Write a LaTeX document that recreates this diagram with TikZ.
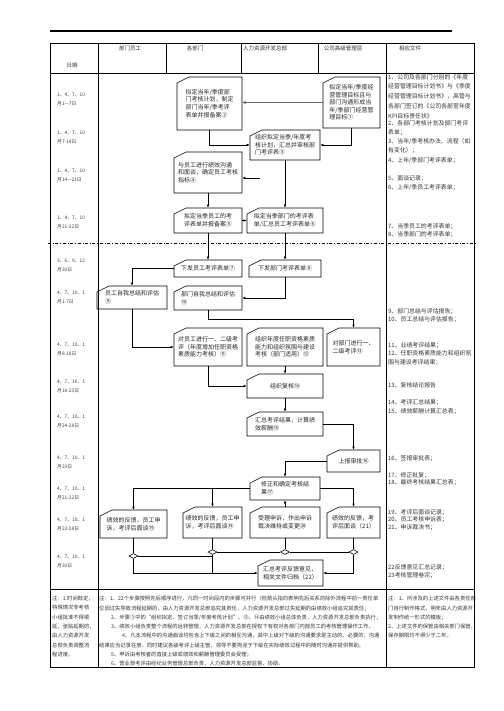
\documentclass[tikz,border=0pt]{standalone}
\usepackage{fontspec}
\setmainfont{Noto Sans CJK SC}
\usetikzlibrary{arrows.meta,shapes.geometric,positioning}

\tikzset{
  boxline/.style={draw=black, line width=0.6pt},
  cardtext/.style={inner sep=0pt, align=left, text=black!85, font=\fontsize{6}{7.6}\selectfont},
  flow/.style={line width=0.6pt, -{Latex[length=3.2pt,width=2.6pt]}},
  link/.style={line width=0.6pt},
  grid/.style={line width=0.8pt},
  datetext/.style={anchor=west, inner sep=0pt, align=left, text=black!75, font=\fontsize{4.8}{9}\selectfont},
  doctext/.style={anchor=north west, inner sep=0pt, align=left, text=black!80, font=\fontsize{5.9}{9.7}\selectfont},
  notetext/.style={anchor=north west, inner sep=0pt, align=left, text=black!80, font=\fontsize{5.3}{9.3}\selectfont},
  headtext/.style={inner sep=0pt, text=black!80, font=\fontsize{5.5}{6}\selectfont},
  merge/.style={draw, diamond, line width=0.6pt, fill=white, minimum width=9pt, minimum height=5pt, inner sep=0pt}
}

% card with cut corner: name, x1, y1, x2, y2, text
\newcommand{\cardbox}[6]{%
  \draw[boxline] (#2,#3+6) -- (#2+12,#3) -- (#4,#3) -- (#4,#5) -- (#2,#5) -- cycle;
  \node[cardtext, minimum width=#4-#2, minimum height=#5-#3] (#1) at ({(#2+#4)/2},{(#3+#5)/2}) {#6};
}

\begin{document}
\begin{tikzpicture}[x=1pt, y=-1pt]
  \useasboundingbox (0,0) rectangle (503,711);

  % Page rule and table frame
  \draw[line width=1.4pt] (50,31) -- (452,31);
  \draw[grid] (50,43) rectangle (474,667);
  \draw[grid] (50,73) -- (474,73);
  \draw[grid] (98,43) -- (98,667);
  \draw[grid] (386,43) -- (386,667);
  \draw[grid] (166,43) -- (166,73);
  \draw[grid] (241,43) -- (241,73);
  \draw[grid] (318,43) -- (318,73);
  \draw[grid] (50,589) -- (474,589);
  \draw[dash dot, line width=0.7pt] (48,243) -- (476,243);

  % Header
  \node[headtext] (hdate) at (72,65) {日期};
  \node[headtext] (hstaff) at (130,48) {部门员工};
  \node[headtext] (hdept) at (195,48) {各部门};
  \node[headtext] (hhr) at (265,48) {人力资源开发总部};
  \node[headtext] (hboss) at (343,48) {公司高级管理层};
  \node[headtext] (hdoc) at (410,48) {相应文件};

  % Dates
  \node[datetext] (day1) at (57,99.5) {1、4、7、10\\月1—7日};
  \node[datetext] (day2) at (57,137.5) {1、4、7、10\\月7-14日};
  \node[datetext] (day3) at (57,175.5) {1、4、7、10\\月14—21日};
  \node[datetext] (day4) at (57,222) {1、4、7、10\\月21-22日};
  \node[datetext] (day5) at (57,265) {3、6、9、12\\月30日};
  \node[datetext] (day6) at (57,297.5) {4、7、10、1\\月1-7日};
  \node[datetext] (day7) at (57,349) {4、7、10、1\\月8-18日};
  \node[datetext] (day8) at (57,386) {4、7、10、1\\月18-23日};
  \node[datetext] (day9) at (57,421) {4、7、10、1\\月24-28日};
  \node[datetext] (day10) at (57,462) {4、7、10、1\\月29日};
  \node[datetext] (day11) at (57,493.5) {4、7、10、1\\月21-22日};
  \node[datetext] (day12) at (57,524) {4、7、10、1\\月23-28日};
  \node[datetext] (day13) at (57,561) {4、7、10、1\\月30日};

  % Process cards
  \cardbox{A}{177}{77}{242}{130}{拟定当年/季度部\\门考核计划，制定\\部门当年/季考评\\表单并报备案②}
  \cardbox{B}{323}{77}{380}{128}{拟定当年/季度经\\营管理目标且与\\部门沟通形成当\\年/季部门经营管\\理目标①}
  \cardbox{C}{250}{130}{320}{160}{组织拟定当季/年度考\\核计划，汇总并审核部\\门考评表③}
  \cardbox{D}{174}{152}{242}{193}{与员工进行绩效沟通\\和面谈，确定员工考核\\指标④}
  \cardbox{E}{174}{208}{242}{233}{拟定当季员工的考\\评表单并报备案⑤}
  \cardbox{F}{247}{208}{323}{233}{拟定当季部门的考评表\\单/汇总员工考评表单⑥}
  \cardbox{G}{174}{260}{242}{277}{下发员工考评表单⑦}
  \cardbox{H}{249}{260}{321}{277}{下发部门考评表单⑧}
  \cardbox{I}{97}{286}{167}{309}{员工自我总结和评估\\⑨}
  \cardbox{J}{174}{286}{242}{310}{部门自我总结和评估\\⑩}
  \cardbox{K}{174}{328}{242}{366}{对员工进行一、二级考\\评（年度增加任职资格\\素质能力考核）⑪}
  \cardbox{L}{247}{328}{323}{366}{组织年度任职资格素质\\能力和组织氛围与建设\\考核（部门适用）⑫}
  \cardbox{M}{327}{328}{380}{366}{对部门进行一、\\二级考评⑬}
  \cardbox{N}{247}{374}{323}{398}{组织复核⑭}
  \cardbox{O}{247}{412}{323}{436}{汇总考评结果，计算绩\\效薪酬⑮}
  \cardbox{P}{327}{450}{380}{472}{上报审批⑯}
  \cardbox{Q}{250}{477}{320}{500}{修正和确定考核结\\果⑰}
  \cardbox{R}{100}{510}{167}{538}{绩效的反馈，员工申\\诉，考评后面谈⑲}
  \cardbox{S}{183}{507}{242}{538}{绩效的反馈，员工申\\诉，考评后面谈⑲}
  \cardbox{T}{250}{507}{320}{538}{受理申诉，作出申诉\\裁决维持或变更⑳}
  \cardbox{U}{327}{507}{380}{538}{绩效的反馈，考\\评后面谈（21）}
  \cardbox{V}{258}{560}{323}{586}{汇总考评反馈意见，\\相关文件归档（22）}

  % Connectors
  \draw[line width=1.6pt, black!60, -{Latex[length=3.5pt,width=3.2pt]}] (B.west) -- (B.west -| A.east);
  \draw[flow] (A.south) |- (C.west);
  \draw[flow] (B.south) |- (C.east);
  \coordinate (talk) at (260,178);
  \draw[flow] (talk) -- (talk -| D.east);
  \draw[flow] (D) -- (E);
  \draw[flow] (C) -- (F);
  \draw[flow] (E) -- (F);
  \draw[flow] (E) -- (G);
  \draw[flow] (F) -- (H);
  \draw[flow] (G.west) -| (I.north);
  \draw[flow] (H.south) |- (J.east);
  \draw[flow] (I.south) |- (K.west);
  \draw[flow] (J.south) -- ++(0,9) -| (M.north);
  \draw[flow] (L) -- (N);
  \draw[flow] (K.south) |- (N.west);
  \draw[flow] (N) -- (O);
  \draw[flow] (O.east) -| (P.north);
  \draw[flow] (P.west) -| (Q.north);
  \draw[flow] (Q.west) -| (R.north);
  \draw[flow] (Q.west) -| (S.north);
  \draw[flow] (Q.east) -| (U.north);
  \draw[flow] (T) -- (Q);

  % Merge points
  \node[merge] (m1) at (133.5,556) {};
  \node[merge] (m2) at (212.5,552) {};
  \node[merge] (m3) at (285,552) {};
  \node[merge] (m4) at (353.5,552) {};
  \draw[link] (R) -- (m1);
  \draw[link] (S) -- (m2);
  \draw[link] (T) -- (m3);
  \draw[link] (U) -- (m4);
  \draw[link] (m1.east) -- (m1.east -| m2.south);
  \draw[link] (m2) -- (m3);
  \draw[link] (m3) -- (m4);
  \draw[flow] (m1.south) |- (V.west);
  \draw[link] (m2.south) -- (m2.south |- V.west);
  \draw[flow] (m4.south) |- (V.east);

  % Documents
  \node[doctext] (doc1) at (388,74) {1、公司及各部门分别的《年度\\经营管理目标计划书》与《季度\\经营管理目标计划书》，高管与\\各部门签订的《公司各部室年度\\KPI目标责任状》};
  \node[doctext] (doc2) at (388,120) {2、各部门考核计划及部门考评\\表单；};
  \node[doctext] (doc3) at (388,138) {3、当年/季考核办法、流程（如\\有变化）；};
  \node[doctext] (doc4) at (388,157) {4、上年/季部门考评表单；};
  \node[doctext] (doc5) at (388,175) {5、面谈记录；};
  \node[doctext] (doc6) at (388,184) {6、上年/季员工考评表单；};
  \node[doctext] (doc7) at (388,223) {7、当季员工的考评表单；};
  \node[doctext] (doc8) at (388,231) {8、当季部门的考评表单；};
  \node[doctext] (doc9) at (388,308) {9、部门总结与评估报告；};
  \node[doctext] (doc10) at (388,316) {10、员工总结与评估报告；};
  \node[doctext] (doc11) at (388,342) {11、业绩考评结果；};
  \node[doctext] (doc12) at (388,350) {12、任职资格素质能力和组织氛\\围与建设考评结果；};
  \node[doctext] (doc13) at (388,382) {13、复核结论报告};
  \node[doctext] (doc14) at (388,399) {14、考评汇总结果；};
  \node[doctext] (doc15) at (388,408) {15、绩效薪酬计算汇总表；};
  \node[doctext] (doc16) at (388,455) {16、签报审批表；};
  \node[doctext] (doc17) at (388,472) {17、修正批复；};
  \node[doctext] (doc18) at (388,479) {18、最终考核结果汇总表；};
  \node[doctext] (doc19) at (388,509) {19、考评后面谈记录；};
  \node[doctext] (doc20) at (388,516) {20、员工考核申诉表；};
  \node[doctext] (doc21) at (388,524) {21、申诉裁决书；};
  \node[doctext] (doc22) at (388,564) {22反馈意见汇总记录；};
  \node[doctext] (doc23) at (388,572) {23考核管理卷宗；};

  % Notes
  \node[notetext] (noteleft) at (52,596) {注：1.时间既定，\\特殊情况非考核\\小组批准不得顺\\延，张贴延期的，\\由人力资源开发\\总部负责调整流\\程进度。};
  \node[notetext] (notemid) at (99,596) {注：1、22个步骤按照先后顺序进行，凡同一时间段内的步骤可并行（但箭头指向表明先后关系的除外流程中前一责任单\\位因过失导致流程延期的，由人力资源开发总部追究其责任，人力资源开发总部过失延期的由绩效小组追究其责任；\\\hspace*{12pt}2、步骤③中的“组织拟定、签订当季/年度考核计划”、⑬、⑭由绩效小组总体负责，人力资源开发总部负责执行；\\\hspace*{12pt}3、绩效小组负责整个流程的运转管理，人力资源开发总部在授权下有权对各部门内部员工的考核管理操作工作。\\\hspace*{23pt}4、凡本流程中的沟通面谈均包含上下级之间的相互沟通，其中上级对下级的沟通要求是主动的、必要的，沟通\\结果应当记录在册，同时建议各级考评上级主管、领导不要拘泥于下级在实际绩效过程中的随时沟通并提供帮助。\\\hspace*{12pt}5、申诉由考核者的直接上级或绩效和薪酬管理委员会受理；\\\hspace*{12pt}6、营业部考评由经纪业务管理总部负责，人力资源开发总部监督、协助。};
  \node[notetext] (noteright) at (388,596) {注：1、所涉及的上述文件由各责任部\\门自行制作格式，明年由人力资源开\\发制作统一形式的模板；\\2、上述文件的保管由相关部门保管，\\保存期限均不得少于二年。};
\end{tikzpicture}
\end{document}
